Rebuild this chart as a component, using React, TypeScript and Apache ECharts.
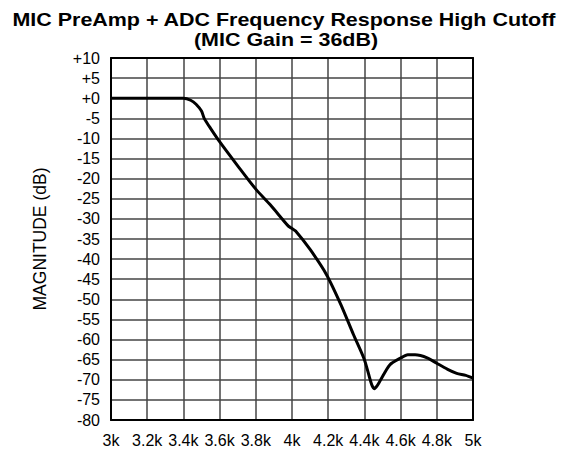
import React, { useEffect, useRef } from "react";
import * as echarts from "echarts";

const titleLines = ["MIC PreAmp + ADC Frequency Response High Cutoff", "(MIC Gain = 36dB)"];
const yAxisName = "MAGNITUDE (dB)";

const frequencyHz = [
  3000, 3100, 3200, 3300, 3400, 3440, 3470, 3500, 3515, 3550, 3600, 3700, 3800, 3880,
  3980, 4000, 4020, 4100, 4190, 4270, 4340, 4400, 4440, 4455, 4470, 4490, 4540, 4600,
  4640, 4680, 4750, 4800, 4860, 4910, 4960, 5000,
];
const magnitudeDb = [
  0, 0, 0, 0, 0, -0.5, -1.5, -3.2, -5, -7.5, -10.8, -16.8, -22.6, -26.5,
  -31.8, -32.4, -33, -37.6, -43.8, -51.3, -58.8, -65, -71.2, -72.2, -71.5, -70, -66.3, -64.6,
  -63.8, -63.8, -64.6, -65.9, -67.4, -68.4, -68.9, -69.6,
];

const xTickLabels = ["3k", "3.2k", "3.4k", "3.6k", "3.8k", "4k", "4.2k", "4.4k", "4.6k", "4.8k", "5k"];
const yTickLabels = [
  "-80", "-75", "-70", "-65", "-60", "-55", "-50", "-45", "-40", "-35",
  "-30", "-25", "-20", "-15", "-10", "-5", "+0", "+5", "+10",
];

const X_MIN = 3000;
const X_MAX = 5000;
const X_STEP = 200;
const Y_MIN = -80;
const Y_MAX = 10;
const Y_STEP = 5;

const FONT = '"Liberation Sans", Arial, Helvetica, sans-serif';

export default function App() {
  const ref = useRef<HTMLDivElement>(null);

  useEffect(() => {
    if (!ref.current) return;
    const chart = echarts.init(ref.current, undefined, { renderer: "svg" });
    const data = frequencyHz.map((f, i) => [f, magnitudeDb[i]]);
    const grid = { left: 111, right: 97, top: 58, bottom: 31 };

    chart.setOption({
      animation: false,
      backgroundColor: "#fff",
      grid,
      graphic: [
        {
          type: "text",
          x: 284,
          y: 19.5,
          scaleX: 1.16,
          style: {
            text: titleLines[0],
            fontFamily: FONT,
            fontSize: 18.5,
            fontWeight: "bold",
            fill: "#000",
            textAlign: "center",
            textVerticalAlign: "middle",
            align: "center",
            verticalAlign: "middle",
          },
        },
        {
          type: "text",
          x: 286,
          y: 40,
          scaleX: 1.16,
          style: {
            text: titleLines[1],
            fontFamily: FONT,
            fontSize: 18.5,
            fontWeight: "bold",
            fill: "#000",
            textAlign: "center",
            textVerticalAlign: "middle",
            align: "center",
            verticalAlign: "middle",
          },
        },
      ],
      xAxis: [
        {
          type: "value",
          min: X_MIN,
          max: X_MAX,
          interval: X_STEP,
          axisLine: { show: true, onZero: false, lineStyle: { color: "#000", width: 2 } },
          axisTick: { show: false },
          axisLabel: {
            margin: 12,
            color: "#000",
            fontFamily: FONT,
            fontSize: 16,
            formatter: (v: number) => xTickLabels[Math.round((v - X_MIN) / X_STEP)] ?? "",
          },
          splitLine: { show: true, lineStyle: { color: "#444", width: 1.5 } },
        },
        {
          type: "value",
          position: "top",
          min: X_MIN,
          max: X_MAX,
          interval: X_STEP,
          axisLine: { show: true, onZero: false, lineStyle: { color: "#000", width: 2 } },
          axisTick: { show: false },
          axisLabel: { show: false },
          splitLine: { show: false },
        },
      ],
      yAxis: [
        {
          type: "value",
          min: Y_MIN,
          max: Y_MAX,
          interval: Y_STEP,
          name: yAxisName,
          nameLocation: "middle",
          nameGap: 62,
          nameTextStyle: { color: "#000", fontFamily: FONT, fontSize: 17.5 },
          axisLine: { show: true, onZero: false, lineStyle: { color: "#000", width: 2 } },
          axisTick: { show: false },
          axisLabel: {
            margin: 11,
            color: "#000",
            fontFamily: FONT,
            fontSize: 16,
            formatter: (v: number) => yTickLabels[Math.round((v - Y_MIN) / Y_STEP)] ?? "",
          },
          splitLine: { show: true, lineStyle: { color: "#444", width: 1.5 } },
        },
        {
          type: "value",
          position: "right",
          min: Y_MIN,
          max: Y_MAX,
          interval: Y_STEP,
          axisLine: { show: true, onZero: false, lineStyle: { color: "#000", width: 2 } },
          axisTick: { show: false },
          axisLabel: { show: false },
          splitLine: { show: false },
        },
      ],
      series: [
        {
          type: "line",
          xAxisIndex: 0,
          yAxisIndex: 0,
          data,
          showSymbol: false,
          smooth: 0.25,
          lineStyle: { color: "#000", width: 3 },
          z: 10,
        },
      ],
    });

    return () => chart.dispose();
  }, []);

  return (
    <div
      ref={ref}
      style={{ position: "fixed", left: 0, top: 0, width: 570, height: 451, background: "#fff" }}
    />
  );
}
